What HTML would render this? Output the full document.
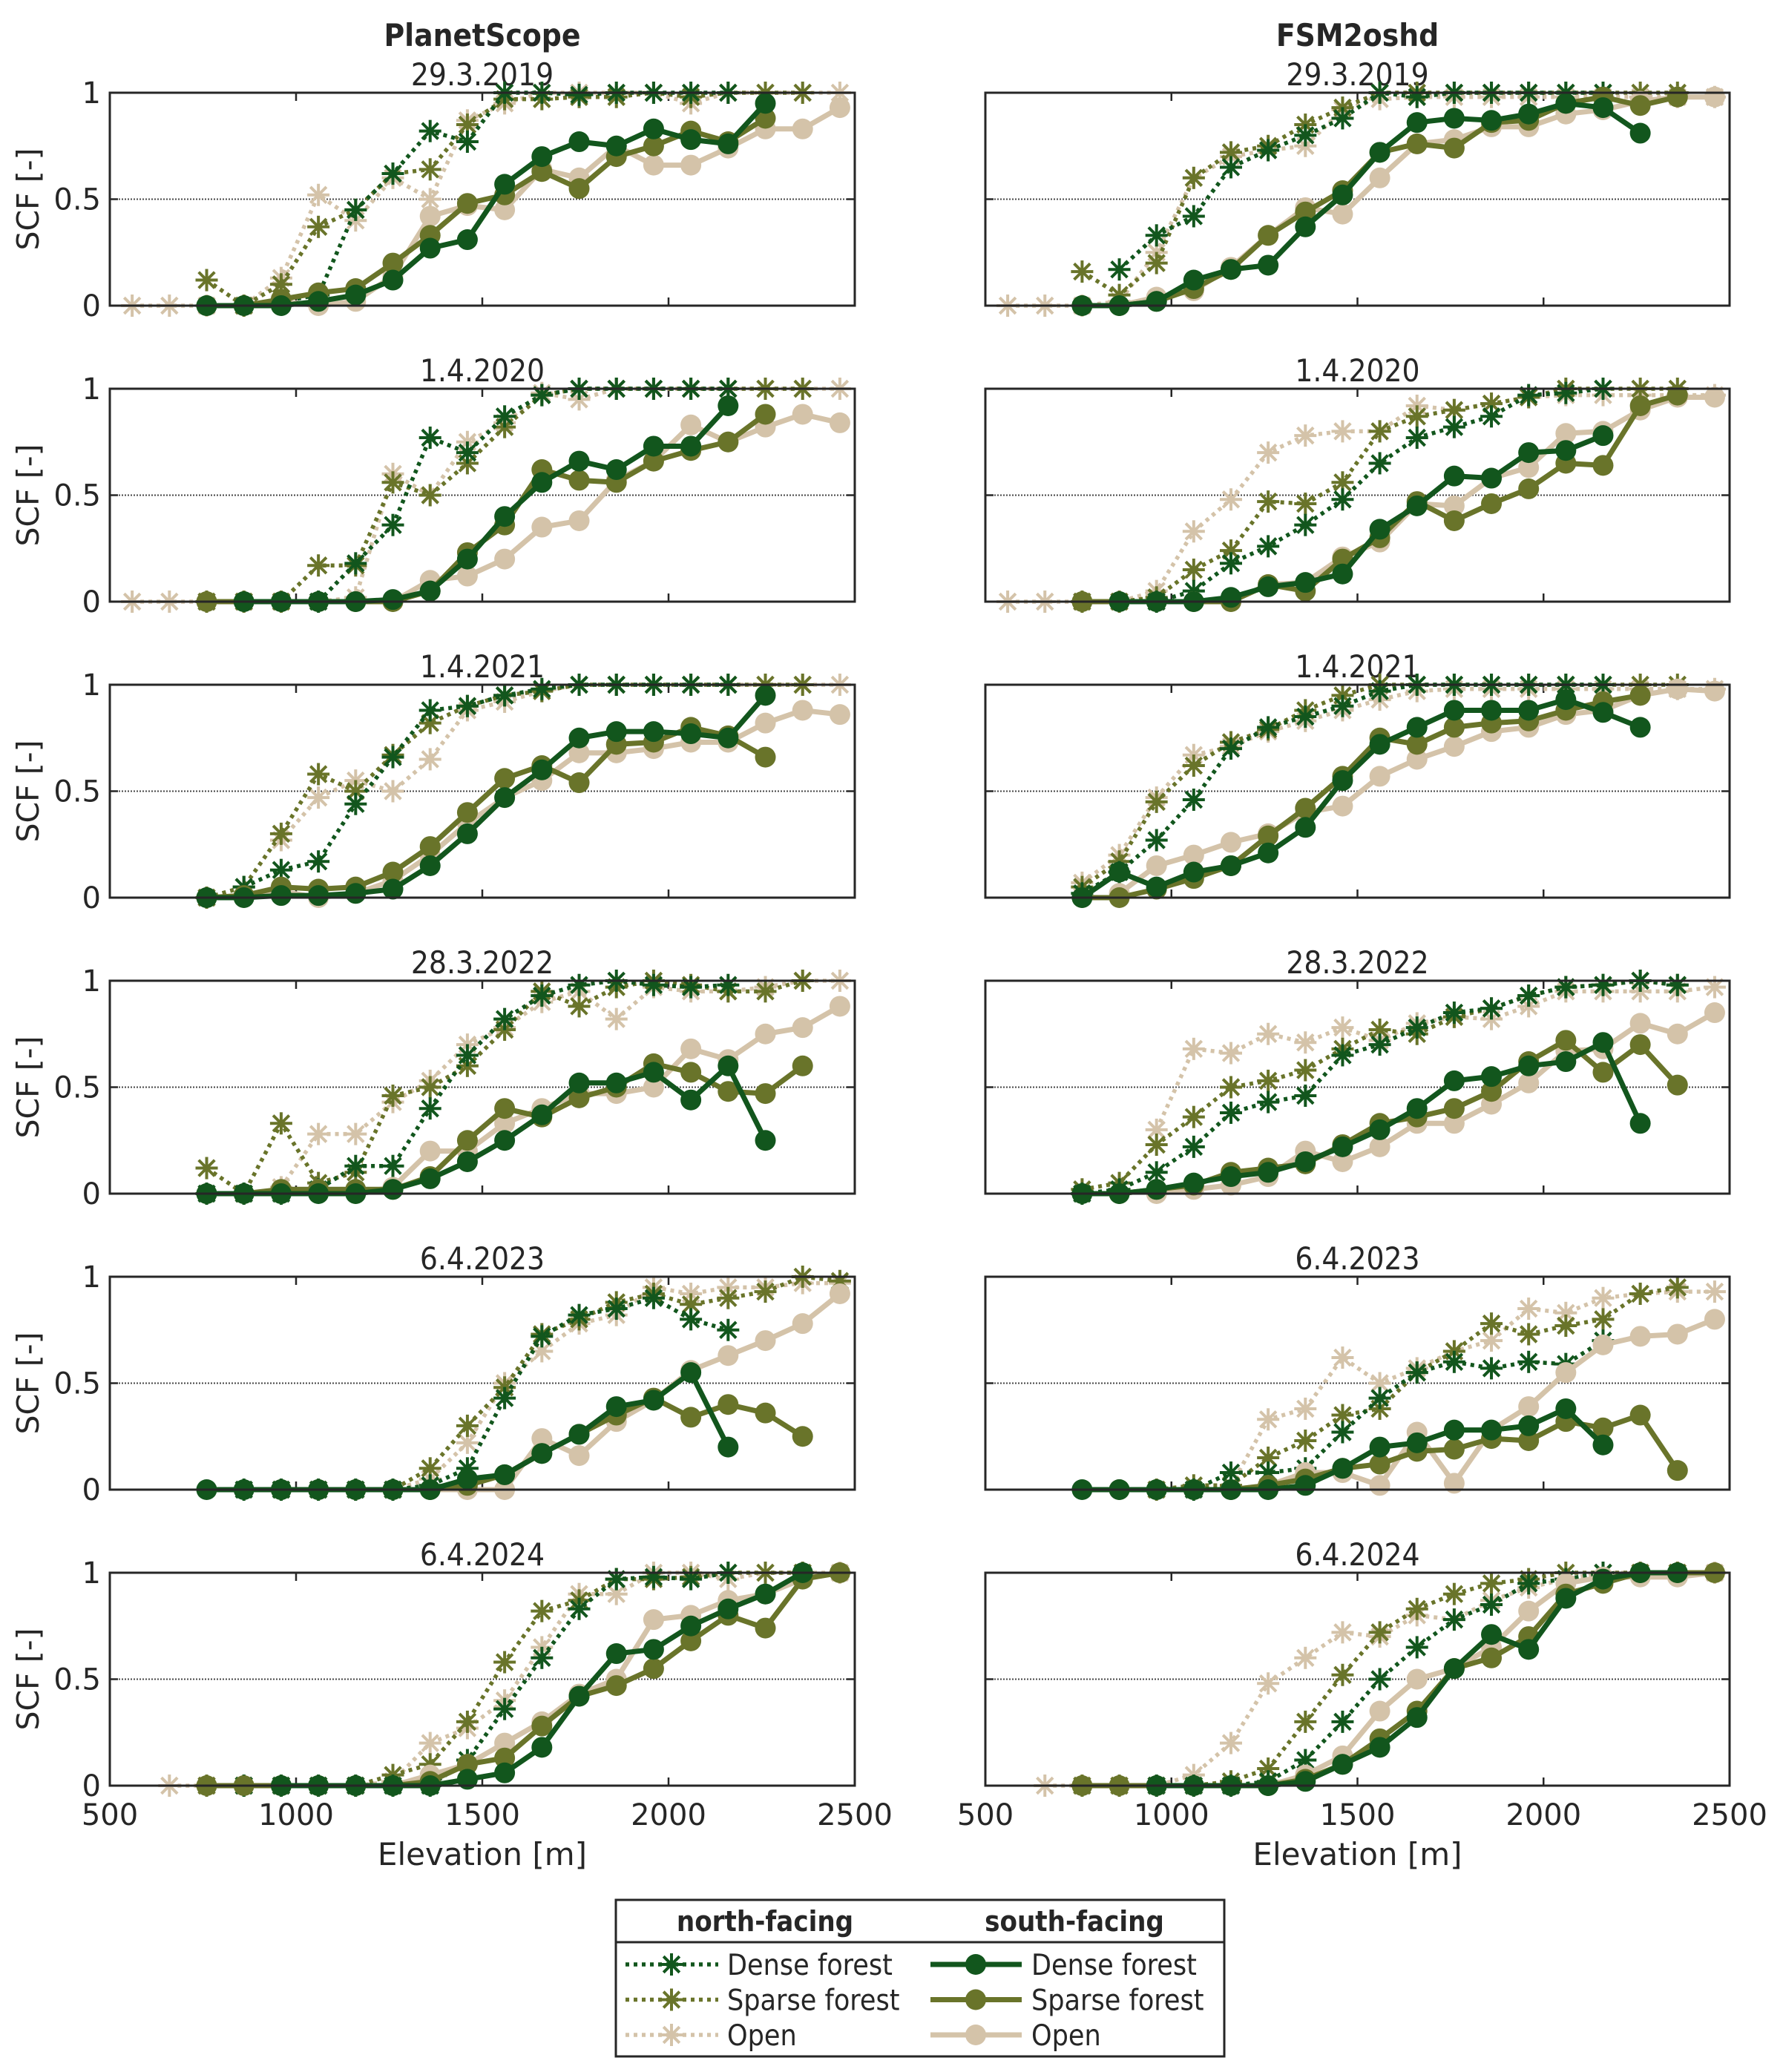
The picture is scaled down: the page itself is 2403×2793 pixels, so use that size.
<!DOCTYPE html>
<html><head><meta charset="utf-8"><style>
html,body{margin:0;padding:0;background:#fff}
svg{display:block}
text{font-family:"DejaVu Sans","Liberation Sans",sans-serif;fill:#262626}
.cond{font-family:"DejaVu Sans Condensed","DejaVu Sans","Liberation Sans",sans-serif}
</style></head><body>
<svg id="fig" width="2403" height="2793" viewBox="0 0 2403 2793" xmlns="http://www.w3.org/2000/svg"></svg>
<script>
const _ = null;
const elevations = [560,660,760,860,960,1060,1160,1260,1360,1460,1560,1660,1760,1860,1960,2060,2160,2260,2360,2460];
const dates = ["29.3.2019","1.4.2020","1.4.2021","28.3.2022","6.4.2023","6.4.2024"];
const xTicks = [500,1000,1500,2000,2500];
const yTicks = [0,0.5,1];
const models = ["PlanetScope","FSM2oshd"];
const seriesKeys = ["on","sn","dn","os","ss","ds"];
// PlanetScope
const ps_dn = [
[_,_,_,_,0.02,0.05,0.45,0.62,0.82,0.77,1,1,0.99,1,1,1,1,_,_,_],
[_,_,_,_,_,0,0.18,0.36,0.77,0.7,0.87,0.97,1,1,1,1,1,_,_,_],
[_,_,_,0.05,0.13,0.17,0.44,0.66,0.88,0.9,0.95,0.98,1,1,1,1,1,_,_,_],
[_,_,0,0,0,0.02,0.13,0.13,0.4,0.65,0.82,0.93,0.98,1,0.98,0.97,0.98,_,_,_],
[_,_,_,0,0,0,0,0,0.02,0.1,0.43,0.72,0.82,0.85,0.9,0.8,0.75,_,_,_],
[_,_,_,0,0,0,0,0,0,0.12,0.36,0.6,0.83,0.97,0.98,0.97,1,_,_,_]];
const ps_sn = [
[_,_,0.12,0,0.1,0.37,0.45,0.62,0.64,0.85,0.97,0.97,0.98,0.98,1,0.98,1,1,1,_],
[_,_,0,0,0,0.17,0.17,0.56,0.5,0.65,0.82,0.97,1,1,1,1,1,1,1,_],
[_,_,0,0.05,0.3,0.58,0.5,0.67,0.82,0.9,0.95,0.97,1,1,1,1,1,1,1,_],
[_,_,0.12,0,0.33,0.05,0.1,0.46,0.5,0.6,0.77,0.95,0.88,0.97,1,0.98,0.95,0.95,1,_],
[_,_,_,_,0,0,0,0,0.1,0.3,0.48,0.73,0.8,0.88,0.92,0.87,0.9,0.93,1,0.98],
[_,_,0,0,0,0,0,0.05,0.1,0.3,0.58,0.82,0.87,0.97,0.97,0.98,1,1,1,_]];
const ps_on = [
[0,0,0,0,0.13,0.52,0.4,0.6,0.5,0.87,0.95,1,1,1,1,0.95,1,1,1,1],
[0,0,0,0,0,0,0.02,0.6,0.5,0.75,0.84,0.98,0.95,1,1,1,1,1,1,1],
[_,_,_,_,0.27,0.47,0.55,0.5,0.65,0.88,0.92,0.97,1,1,1,1,1,1,1,1],
[_,_,_,_,0.03,0.28,0.28,0.43,0.53,0.7,0.78,0.9,0.95,0.82,0.97,0.95,0.95,0.97,1,1],
[_,_,_,_,_,0,0,0,0.05,0.22,0.5,0.65,0.78,0.82,0.95,0.92,0.95,0.95,0.97,0.97],
[_,0,0,0,0,0,0,0.02,0.2,0.27,0.4,0.65,0.9,0.9,1,1,0.97,1,1,1]];
const ps_ds = [
[_,_,0,0,0,0.02,0.05,0.12,0.27,0.31,0.57,0.7,0.77,0.75,0.83,0.78,0.76,0.95,_,_],
[_,_,_,0,0,0,0,0.01,0.05,0.2,0.4,0.56,0.66,0.62,0.73,0.73,0.92,_,_,_],
[_,_,0,0,0.01,0.01,0.02,0.04,0.15,0.3,0.47,0.6,0.75,0.78,0.78,0.77,0.75,0.95,_,_],
[_,_,0,0,0,0,0,0.02,0.07,0.15,0.25,0.37,0.52,0.52,0.57,0.44,0.6,0.25,_,_],
[_,_,0,0,0,0,0,0,0,0.05,0.07,0.17,0.26,0.39,0.42,0.55,0.2,_,_,_],
[_,_,_,_,0,0,0,0,0,0.03,0.06,0.18,0.42,0.62,0.64,0.75,0.83,0.9,1,_]];
const ps_ss = [
[_,_,0,0,0.03,0.06,0.08,0.2,0.33,0.48,0.52,0.63,0.55,0.7,0.75,0.82,0.77,0.88,_,_],
[_,_,0,0,0,0,0,0,0.05,0.23,0.36,0.62,0.57,0.56,0.66,0.71,0.75,0.88,_,_],
[_,_,0,0.01,0.05,0.04,0.05,0.12,0.24,0.4,0.56,0.62,0.54,0.72,0.73,0.8,0.76,0.66,_,_],
[_,_,0,0,0.02,0.02,0.02,0.02,0.08,0.25,0.4,0.36,0.45,0.5,0.61,0.57,0.48,0.47,0.6,_],
[_,_,_,_,0,0,0,0,0,0.02,0.07,0.17,0.26,0.35,0.43,0.34,0.4,0.36,0.25,_],
[_,_,0,0,0,0,0,0,0.02,0.1,0.13,0.28,0.42,0.47,0.55,0.68,0.8,0.74,0.97,1]];
const ps_os = [
[_,_,_,0,0.02,0,0.02,0.14,0.42,0.47,0.45,0.64,0.6,0.75,0.66,0.66,0.74,0.83,0.83,0.93],
[_,_,_,_,0,0,0,0,0.1,0.12,0.2,0.35,0.38,0.57,0.66,0.83,0.75,0.82,0.88,0.84],
[_,_,_,0,0.03,0,0.02,0.08,0.2,0.35,0.47,0.55,0.68,0.68,0.7,0.73,0.73,0.82,0.88,0.86],
[_,_,_,_,0,0.02,0,0.03,0.2,0.2,0.33,0.4,0.47,0.47,0.5,0.68,0.63,0.75,0.78,0.88],
[_,_,_,_,_,0,0,0,0,0,0,0.24,0.16,0.32,0.42,0.56,0.63,0.7,0.78,0.92],
[_,_,_,_,0,0,0,0,0.05,0.1,0.2,0.3,0.43,0.5,0.78,0.8,0.87,0.9,0.97,1]];
// FSM2oshd
const fsm_dn = [
[_,_,_,0.17,0.33,0.42,0.65,0.73,0.8,0.88,1,0.98,1,1,1,1,1,_,_,_],
[_,_,_,_,0,0.05,0.18,0.26,0.36,0.48,0.65,0.77,0.82,0.87,0.97,0.98,1,_,_,_],
[_,_,0.02,0.12,0.27,0.46,0.7,0.8,0.85,0.9,0.97,1,1,1,1,1,1,_,_,_],
[_,_,0,0.02,0.1,0.22,0.38,0.43,0.46,0.65,0.7,0.78,0.85,0.87,0.93,0.97,0.98,1,0.98,_],
[_,_,_,_,_,0,0.08,0.08,0.1,0.27,0.43,0.55,0.6,0.57,0.6,0.59,0.7,_,_,_],
[_,_,_,_,0,0,0,0.02,0.12,0.3,0.5,0.65,0.78,0.85,0.95,0.97,1,_,_,_]];
const fsm_sn = [
[_,_,0.16,0.05,0.2,0.6,0.72,0.75,0.85,0.93,1,1,1,1,1,1,1,1,1,_],
[_,_,0,0,0.02,0.15,0.24,0.47,0.46,0.56,0.8,0.87,0.9,0.93,0.96,1,1,1,1,_],
[_,_,0.05,0.17,0.45,0.62,0.73,0.79,0.88,0.95,1,1,1,1,1,1,1,1,1,_],
[_,_,0.02,0.05,0.23,0.36,0.5,0.53,0.58,0.68,0.77,0.75,0.83,0.87,0.93,0.97,0.98,1,0.98,_],
[_,_,_,_,0,0.02,0.02,0.15,0.23,0.35,0.38,0.55,0.65,0.78,0.73,0.77,0.8,0.92,0.95,_],
[_,_,0,0,0,0,0.02,0.08,0.3,0.52,0.72,0.83,0.9,0.95,0.97,1,1,1,1,_]];
const fsm_on = [
[0,0,0,0.02,0.25,0.6,0.7,0.73,0.75,0.92,0.97,0.98,0.98,0.98,0.98,0.98,0.98,0.98,0.98,0.98],
[0,0,0,0,0.05,0.33,0.48,0.7,0.78,0.8,0.8,0.92,0.9,0.93,0.96,0.97,0.97,0.97,0.97,0.97],
[_,_,0.07,0.2,0.47,0.67,0.71,0.78,0.83,0.88,0.93,0.97,0.98,0.98,0.98,0.98,0.98,0.98,0.98,0.98],
[_,_,_,_,0.3,0.68,0.66,0.75,0.71,0.78,0.72,0.8,0.83,0.82,0.88,0.95,0.95,0.95,0.95,0.97],
[_,_,_,_,_,_,0.02,0.33,0.38,0.62,0.5,0.57,0.65,0.7,0.85,0.83,0.9,0.92,0.93,0.93],
[_,0,0,0,0,0.05,0.2,0.48,0.6,0.72,0.7,0.8,0.78,0.87,0.93,0.97,1,1,1,1]];
const fsm_ds = [
[_,_,0,0,0.02,0.12,0.17,0.19,0.37,0.52,0.72,0.86,0.88,0.87,0.9,0.95,0.93,0.81,_,_],
[_,_,_,0,0,0,0.02,0.07,0.09,0.13,0.34,0.45,0.59,0.58,0.7,0.71,0.78,_,_,_],
[_,_,0,0.12,0.05,0.12,0.15,0.21,0.33,0.55,0.72,0.8,0.88,0.88,0.88,0.93,0.87,0.8,_,_],
[_,_,0,0,0.02,0.05,0.08,0.1,0.15,0.22,0.3,0.4,0.53,0.55,0.6,0.62,0.71,0.33,_,_],
[_,_,0,0,0,0,0,0,0.02,0.1,0.2,0.22,0.28,0.28,0.3,0.38,0.21,_,_,_],
[_,_,_,_,0,0,0,0,0.02,0.1,0.18,0.32,0.55,0.71,0.64,0.88,0.97,1,1,_]];
const fsm_ss = [
[_,_,0,0,0.02,0.08,0.17,0.33,0.44,0.54,0.72,0.76,0.74,0.86,0.87,0.95,0.98,0.94,0.98,_],
[_,_,0,0,0,0,0,0.08,0.05,0.2,0.3,0.47,0.38,0.46,0.53,0.65,0.64,0.92,0.97,_],
[_,_,0,0,0.04,0.09,0.15,0.29,0.42,0.57,0.75,0.72,0.8,0.82,0.83,0.88,0.92,0.95,_,_],
[_,_,0,0,0.02,0.04,0.1,0.12,0.14,0.23,0.33,0.36,0.4,0.48,0.62,0.72,0.57,0.7,0.51,_],
[_,_,_,0,0,0,0,0.02,0.05,0.1,0.12,0.18,0.19,0.24,0.23,0.32,0.29,0.35,0.09,_],
[_,_,0,0,0,0,0,0,0.03,0.1,0.22,0.35,0.55,0.6,0.7,0.9,0.95,1,1,1]];
const fsm_os = [
[_,_,_,0,0.04,0.07,0.18,0.33,0.46,0.43,0.6,0.76,0.78,0.84,0.84,0.9,0.92,0.96,0.98,0.98],
[_,_,_,_,_,0,0,0.08,0.09,0.21,0.28,0.46,0.45,0.58,0.63,0.79,0.8,0.9,0.96,0.96],
[_,_,_,0.02,0.15,0.2,0.26,0.3,0.4,0.43,0.57,0.65,0.71,0.78,0.8,0.86,0.88,0.95,0.98,0.97],
[_,_,_,_,0,0.02,0.04,0.08,0.2,0.15,0.22,0.33,0.33,0.42,0.52,0.67,0.68,0.8,0.75,0.85],
[_,_,_,_,0,0,0,0.02,0.08,0.08,0.02,0.27,0.03,0.28,0.39,0.55,0.68,0.72,0.73,0.8],
[_,_,_,_,0,0,0,0,0.05,0.14,0.35,0.5,0.55,0.65,0.82,0.95,0.98,0.98,0.98,1]];

const DATA = [
 {dn:ps_dn,sn:ps_sn,on:ps_on,ds:ps_ds,ss:ps_ss,os:ps_os},
 {dn:fsm_dn,sn:fsm_sn,on:fsm_on,ds:fsm_ds,ss:fsm_ss,os:fsm_os}];
const COL = {d:"#12561d", s:"#69742a", o:"#d4c3a9"};
const NS = "http://www.w3.org/2000/svg";
const svg = document.getElementById("fig");
function mk(tag, attrs, parent){
  const e = document.createElementNS(NS, tag);
  for (const k in attrs) e.setAttribute(k, attrs[k]);
  (parent||svg).appendChild(e); return e;
}
const COLX = [[148,1152],[1328,2331]];
const TOP0 = 125, STEP = 399, H = 287;
function xScale(c, v){ const [a,b]=COLX[c]; return a + (v-500)/2000*(b-a); }
function yScale(r, v){ return TOP0 + r*STEP + H - v*H; }

function star(g, x, y, col, name){
  const s = mk("g", {}, g);
  
  
  const L = 15;
  [[0,L],[L,0],[L*0.72,L*0.72],[L*0.72,-L*0.72]].forEach(([dx,dy])=>{
    mk("line",{x1:x-dx,y1:y-dy,x2:x+dx,y2:y+dy,stroke:col,"stroke-width":4},s);
  });
}

models.forEach((m,c)=>{
  const mid = (COLX[c][0]+COLX[c][1])/2;
  const t = mk("text",{x:mid,y:62,"text-anchor":"middle","font-size":42,"font-weight":"bold",fill:"#000",class:"cond"});
  t.textContent = m;
  
  
  dates.forEach((d,r)=>{
    const top = TOP0 + r*STEP;
    const [x0,x1] = COLX[c];
    const panel = mk("g",{});
    
    
    const tt = mk("text",{x:mid,y:top-10,"text-anchor":"middle","font-size":42,fill:"#000",class:"cond"},panel);
    tt.textContent = d;
    
    
    const rl = mk("line",{x1:x0,x2:x1,y1:yScale(r,0.5),y2:yScale(r,0.5),stroke:"#444","stroke-width":2,"stroke-dasharray":"2 2"},panel);
    
    
    xTicks.forEach(v=>{
      const X = xScale(c,v);
      mk("line",{x1:X,x2:X,y1:top+H,y2:top+H-11,stroke:"#262626","stroke-width":2.5},panel);
      mk("line",{x1:X,x2:X,y1:top,y2:top+11,stroke:"#262626","stroke-width":2.5},panel);
      if (r===5){
        const tl = mk("text",{x:X,y:top+H+53,"text-anchor":"middle","font-size":40},panel);
        tl.textContent = v;
        
        
      }
    });
    yTicks.forEach(v=>{
      const Y = yScale(r,v);
      mk("line",{x1:x0,x2:x0+11,y1:Y,y2:Y,stroke:"#262626","stroke-width":2.5},panel);
      mk("line",{x1:x1,x2:x1-11,y1:Y,y2:Y,stroke:"#262626","stroke-width":2.5},panel);
      if (c===0){
        const tl = mk("text",{x:x0-12,y:Y+14,"text-anchor":"end","font-size":40},panel);
        tl.textContent = v;
        
        
      }
    });
    if (c===0){
      const yl = mk("text",{x:0,y:0,"text-anchor":"middle","font-size":41,transform:`translate(52,${top+H/2}) rotate(-90)`},panel);
      yl.textContent = "SCF [-]";
      
      
    }
    seriesKeys.forEach(k=>{
      const vals = DATA[c][k][r];
      const col = COL[k[0]];
      const north = k[1]==="n";
      const g = mk("g",{},panel);
      
      
      let seg = [];
      const segs = [];
      vals.forEach((v,i)=>{
        if (v===null){ if(seg.length) segs.push(seg); seg=[]; }
        else seg.push([xScale(c,elevations[i]), yScale(r,v)]);
      });
      if (seg.length) segs.push(seg);
      segs.forEach(sg=>{
        if (sg.length<2) return;
        const p = mk("polyline",{points:sg.map(q=>q.join(",")).join(" "),fill:"none",stroke:col,
          "stroke-width":north?5.5:7,"stroke-dasharray":north?"5 6":"none","stroke-linejoin":"round"},g);
        
        
      });
      vals.forEach((v,i)=>{
        if (v===null) return;
        const X = xScale(c,elevations[i]), Y = yScale(r,v);
        if (north) star(g,X,Y,col,'star-marker');
        else {
          const ci = mk("circle",{cx:X,cy:Y,r:14,fill:col},g);
          
          
        }
      });
    });
    const box = mk("rect",{x:x0,y:top,width:x1-x0,height:H,fill:"none",stroke:"#262626","stroke-width":3},panel);
    
    
  });
  const xl = mk("text",{x:mid,y:2514,"text-anchor":"middle","font-size":42});
  xl.textContent = "Elevation [m]";
  
  
});

const lg = mk("g",{});


mk("rect",{x:830,y:2561,width:820,height:211,fill:"#fff",stroke:"#262626","stroke-width":3},lg);
mk("line",{x1:830,x2:1650,y1:2618,y2:2618,stroke:"#262626","stroke-width":3},lg);
const h1 = mk("text",{x:1031,y:2603,"text-anchor":"middle","font-size":38,"font-weight":"bold",fill:"#000",class:"cond"},lg);
h1.textContent = "north-facing";


const h2 = mk("text",{x:1448,y:2603,"text-anchor":"middle","font-size":38,"font-weight":"bold",fill:"#000",class:"cond"},lg);
h2.textContent = "south-facing";


const legNames = ["Dense forest","Sparse forest","Open"];
const legCols = [COL.d, COL.s, COL.o];
legNames.forEach((n,i)=>{
  const y = 2648 + i*47.5;
  const e1 = mk("g",{},lg);
  
  
  mk("line",{x1:843,x2:968,y1:y,y2:y,stroke:legCols[i],"stroke-width":5.5,"stroke-dasharray":"5 6"},e1);
  star(e1,905,y,legCols[i],'legend-star');
  const t1 = mk("text",{x:980,y:y+14,"font-size":39,fill:"#000",class:"cond"},e1);
  t1.textContent = n;
  const e2 = mk("g",{},lg);
  
  
  mk("line",{x1:1254,x2:1377,y1:y,y2:y,stroke:legCols[i],"stroke-width":7},e2);
  mk("circle",{cx:1315,cy:y,r:14,fill:legCols[i]},e2);
  const t2 = mk("text",{x:1390,y:y+14,"font-size":39,fill:"#000",class:"cond"},e2);
  t2.textContent = n;
});
</script>
</body></html>
